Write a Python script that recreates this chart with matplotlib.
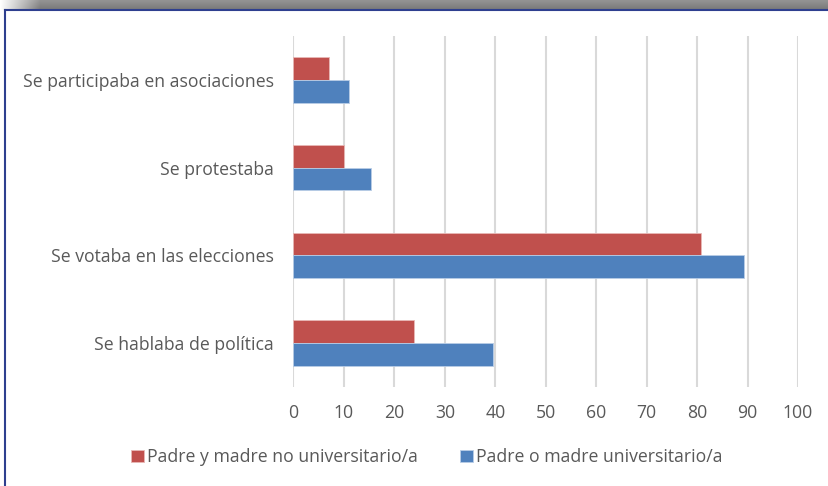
import numpy as np
import matplotlib
matplotlib.use("Agg")
import matplotlib.pyplot as plt
from matplotlib.lines import Line2D

categories = ["Se hablaba de política", "Se votaba en las elecciones",
              "Se protestaba", "Se participaba en asociaciones"]
no_univ = [23.9, 80.8, 10.0, 7.1]
univ = [39.5, 89.2, 15.4, 11.0]
series_names = ["Padre y madre no universitario/a", "Padre o madre universitario/a"]
xticks = list(range(0, 101, 10))

RED = "#C0504D"
BLUE = "#4F81BD"
TXT = "#595959"
FS = 12.7

plt.rcParams['font.family'] = ['Open Sans', 'DejaVu Sans']

W, H = 829, 486
fig = plt.figure(figsize=(W / 100, H / 100), dpi=100)

# frame: grey band on top, thin blue border
band = fig.add_axes([0, 1 - 10 / H, 1, 10 / H])
grad = np.tile(np.linspace(0.58, 0.47, 20)[:, None], (1, W))
fade = np.clip(np.arange(W) / 40.0, 0, 1)
grad = 1 - (1 - grad) * fade[None, :]
band.imshow(grad, cmap="gray", vmin=0, vmax=1, aspect="auto",
            extent=[0, 1, 0, 1])
band.axis("off")
fig.add_artist(Line2D([5 / W, 1], [1 - 10.5 / H] * 2, color="#2E3F8F", lw=1.5))
fig.add_artist(Line2D([5.5 / W] * 2, [0, 1 - 10.5 / H], color="#2E3F8F", lw=1.5))

ax = fig.add_axes([293.5 / W, (H - 387) / H, (798 - 293.5) / W, (387 - 36) / H])
y = np.arange(len(categories))
h = 0.26
ax.barh(y + h / 2, no_univ, height=h, color=RED, edgecolor="#e8b8b6", lw=0.6,
        label=series_names[0], zorder=3)
ax.barh(y - h / 2, univ, height=h, color=BLUE, edgecolor="#b9cde6", lw=0.6,
        label=series_names[1], zorder=3)

ax.set_xlim(0, 100)
ax.set_ylim(-0.5, len(categories) - 0.5)
ax.set_xticks(xticks)
ax.set_yticks(y)
ax.set_yticklabels(categories)
ax.grid(axis="x", color="#d9d9d9", lw=1.5, zorder=0)
for s in ax.spines.values():
    s.set_visible(False)
ax.tick_params(axis="both", length=0, colors=TXT, labelsize=FS)
ax.tick_params(axis="x", pad=12)
ax.tick_params(axis="y", pad=14)

ax.legend(loc="center", bbox_to_anchor=(427 / W, (H - 457) / H),
          bbox_transform=fig.transFigure, ncol=2, frameon=False,
          fontsize=FS, labelcolor=TXT, handlelength=0.7, handleheight=0.7,
          handletextpad=0.2, columnspacing=2.4)

fig.savefig("out.png", dpi=100)
